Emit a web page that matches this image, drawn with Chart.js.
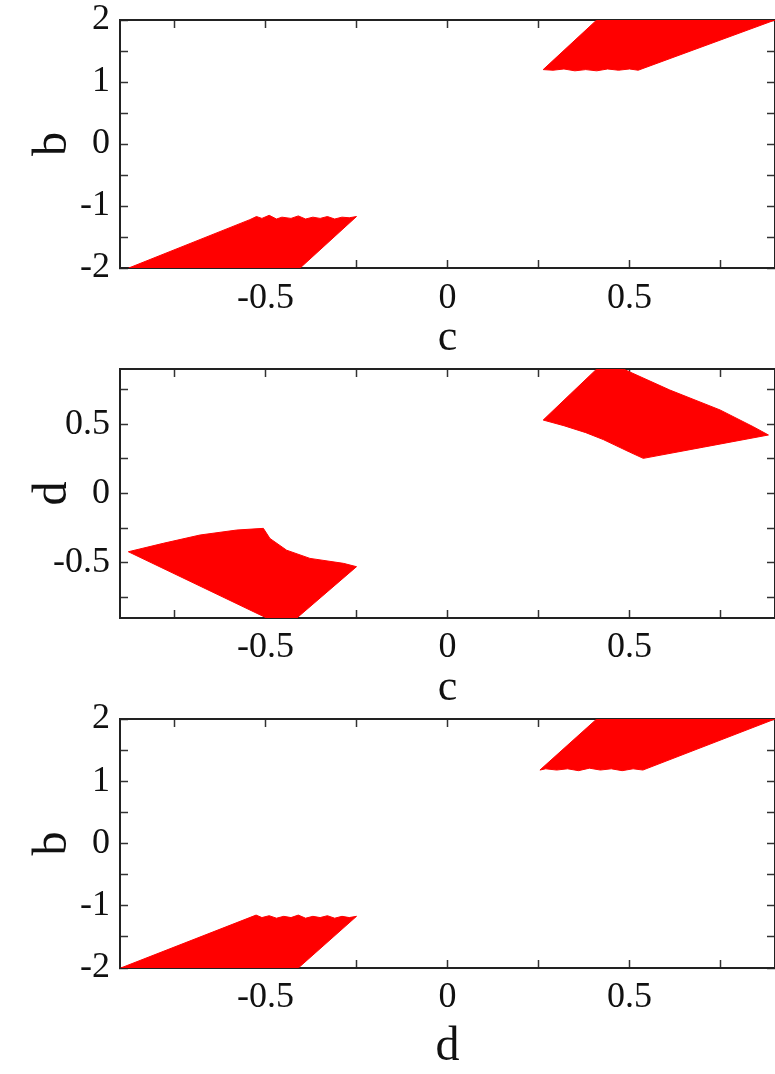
<!DOCTYPE html>
<html>
<head>
<meta charset="utf-8">
<script src="https://cdn.jsdelivr.net/npm/chart.js@4.4.0/dist/chart.umd.min.js"></script>
<style>
  html, body { margin: 0; padding: 0; background: #fff; overflow: hidden; }
  .panel { position: absolute; left: 0; }
</style>
</head>
<body>
<div class="panel" style="top:0px"><canvas id="panelCB" width="775" height="360"></canvas></div>
<div class="panel" style="top:360px"><canvas id="panelCD" width="775" height="350"></canvas></div>
<div class="panel" style="top:700px"><canvas id="panelDB" width="775" height="374"></canvas></div>
<script>
// axis ticks
const xTickValues = [-0.75, -0.5, -0.25, 0, 0.25, 0.5, 0.75];
const xTickLabels = ['', '-0.5', '', '0', '', '0.5', ''];
const bTickValues = [-2, -1.5, -1, -0.5, 0, 0.5, 1, 1.5, 2];
const bTickLabels = ['-2', '', '-1', '', '0', '', '1', '', '2'];
const dTickValues = [-0.75, -0.5, -0.25, 0, 0.25, 0.5, 0.75];
const dTickLabels = ['', '-0.5', '', '0', '', '0.5', ''];

// panel 1: b against c (outline of the two red regions)
const cbLowerC = [-0.876, -0.543, -0.525, -0.51, -0.49, -0.47, -0.455, -0.43, -0.41, -0.39, -0.37, -0.35, -0.33, -0.31, -0.29, -0.27, -0.250, -0.405, -0.876];
const cbLowerB = [-2.0, -1.22, -1.17, -1.20, -1.15, -1.21, -1.18, -1.20, -1.16, -1.21, -1.18, -1.20, -1.17, -1.21, -1.18, -1.19, -1.17, -2.0, -2.0];
const cbUpperC = [0.410, 0.90, 0.90, 0.524, 0.50, 0.47, 0.44, 0.41, 0.38, 0.35, 0.32, 0.29, 0.263, 0.410];
const cbUpperB = [2.0, 2.0, 2.0, 1.19, 1.21, 1.19, 1.21, 1.18, 1.20, 1.18, 1.21, 1.19, 1.20, 2.0];

// panel 2: d against c
const cdLowerC = [-0.877, -0.781, -0.680, -0.579, -0.506, -0.488, -0.442, -0.378, -0.286, -0.250, -0.414, -0.497, -0.877];
const cdLowerD = [-0.421, -0.360, -0.300, -0.264, -0.252, -0.325, -0.410, -0.469, -0.505, -0.529, -0.90, -0.90, -0.421];
const cdUpperC = [0.263, 0.337, 0.410, 0.483, 0.611, 0.749, 0.840, 0.882, 0.703, 0.538, 0.50, 0.46, 0.428, 0.38, 0.32, 0.263];
const cdUpperD = [0.531, 0.717, 0.90, 0.90, 0.748, 0.604, 0.483, 0.423, 0.335, 0.254, 0.30, 0.35, 0.39, 0.44, 0.49, 0.531];

// panel 3: b against d
const dbLowerD = [-0.898, -0.526, -0.51, -0.49, -0.47, -0.45, -0.43, -0.41, -0.39, -0.37, -0.35, -0.33, -0.31, -0.29, -0.27, -0.25, -0.41, -0.898];
const dbLowerB = [-2.0, -1.15, -1.19, -1.16, -1.20, -1.17, -1.19, -1.15, -1.20, -1.17, -1.19, -1.16, -1.20, -1.17, -1.19, -1.17, -2.0, -2.0];
const dbUpperD = [0.41, 0.90, 0.90, 0.537, 0.51, 0.48, 0.45, 0.42, 0.39, 0.36, 0.33, 0.30, 0.27, 0.254, 0.41];
const dbUpperB = [2.0, 2.0, 2.0, 1.18, 1.20, 1.17, 1.20, 1.18, 1.21, 1.17, 1.20, 1.18, 1.20, 1.18, 2.0];

const serif = "'Liberation Serif', 'DejaVu Serif', serif";
const inkColor = '#111';
const tickFont = { family: serif, size: 36, lineHeight: 1.2 };

function pickLabel(values, labels) {
  return function (v) {
    const i = values.findIndex(t => Math.abs(t - v) < 1e-9);
    return i >= 0 ? labels[i] : '';
  };
}

function axis(pos, min, max, values, labels, title, fit) {
  const horiz = pos === 'top' || pos === 'bottom';
  const shown = pos === 'left' || pos === 'bottom';
  return {
    type: 'linear',
    position: pos,
    min: min,
    max: max,
    afterBuildTicks: s => { s.ticks = values.map(v => ({ value: v })); },
    afterFit: s => {
      if (horiz) s.height = fit; else s.width = fit;
      s.paddingTop = s.paddingBottom = s.paddingLeft = s.paddingRight = 0;
    },
    border: { display: true, color: '#222', width: 2 },
    grid: { drawOnChartArea: false, drawTicks: true, tickLength: -8, tickColor: '#333', tickWidth: 1.5 },
    ticks: {
      display: shown,
      autoSkip: false,
      maxRotation: 0,
      padding: horiz ? (title ? title.tickPad : 0) : 18,
      color: inkColor,
      font: tickFont,
      callback: pickLabel(values, labels)
    },
    title: title ? {
      display: true,
      text: title.text,
      color: inkColor,
      font: { family: serif, size: title.size, lineHeight: 1 },
      padding: title.padding
    } : { display: false }
  };
}

function blob(xs, ys) {
  return {
    data: xs.map((x, i) => ({ x: x, y: ys[i] })),
    showLine: true,
    fill: 'shape',
    borderColor: '#f00',
    backgroundColor: '#ff0000',
    borderWidth: 1,
    pointRadius: 0,
    tension: 0
  };
}

function panel(id, o) {
  new Chart(document.getElementById(id), {
    type: 'scatter',
    data: { datasets: o.blobs },
    options: {
      responsive: false,
      animation: false,
      events: [],
      layout: { autoPadding: false, padding: { top: o.top, left: 0, right: 0, bottom: 0 } },
      plugins: { legend: { display: false }, tooltip: { enabled: false } },
      scales: {
        x: axis('bottom', -0.9, 0.9, xTickValues, xTickLabels, o.xTitle, o.xHeight),
        x2: axis('top', -0.9, 0.9, xTickValues, xTickLabels, null, 0),
        y: axis('left', o.yMin, o.yMax, o.yValues, o.yLabels, o.yTitle, 120),
        y2: axis('right', o.yMin, o.yMax, o.yValues, o.yLabels, null, 0)
      }
    }
  });
}

panel('panelCB', {
  top: 20, xHeight: 92, yMin: -2, yMax: 2, yValues: bTickValues, yLabels: bTickLabels,
  xTitle: { text: 'c', size: 44, padding: { bottom: 0 }, tickPad: 17 },
  yTitle: { text: 'b', size: 48, padding: { top: 29 } },
  blobs: [blob(cbLowerC, cbLowerB), blob(cbUpperC, cbUpperB)]
});

panel('panelCD', {
  top: 9, xHeight: 92, yMin: -0.9, yMax: 0.9, yValues: dTickValues, yLabels: dTickLabels,
  xTitle: { text: 'c', size: 44, padding: { bottom: 0 }, tickPad: 16 },
  yTitle: { text: 'd', size: 48, padding: { top: 29 } },
  blobs: [blob(cdLowerC, cdLowerD), blob(cdUpperC, cdUpperD)]
});

panel('panelDB', {
  top: 19, xHeight: 106, yMin: -2, yMax: 2, yValues: bTickValues, yLabels: bTickLabels,
  xTitle: { text: 'd', size: 48, padding: { bottom: 3 }, tickPad: 16 },
  yTitle: { text: 'b', size: 48, padding: { top: 29 } },
  blobs: [blob(dbLowerD, dbLowerB), blob(dbUpperD, dbUpperB)]
});
</script>
</body>
</html>
